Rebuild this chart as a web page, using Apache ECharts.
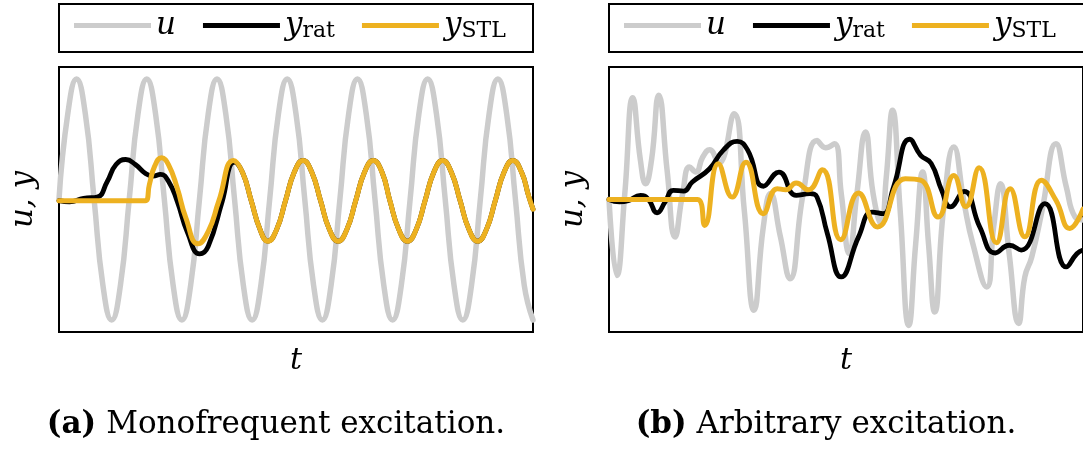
<!DOCTYPE html>
<html>
<head>
<meta charset="utf-8">
<script src="https://cdn.jsdelivr.net/npm/echarts@6/dist/echarts.min.js"></script>
<style>
  html, body { margin: 0; padding: 0; background: #fff; }
  #chart { width: 1083px; height: 449px; }
</style>
</head>
<body>
<div id="chart"></div>
<script>
// ---- (a) monofrequent excitation: time in samples, 8 samples per period of u ----
const uMono = [
  0, 0.71, 1, 0.71, 0, -0.71, -1, -0.71,
  0, 0.71, 1, 0.71, 0, -0.71, -1, -0.71,
  0, 0.71, 1, 0.71, 0, -0.71, -1, -0.71,
  0, 0.71, 1, 0.71, 0, -0.71, -1, -0.71,
  0, 0.71, 1, 0.71, 0, -0.71, -1, -0.71,
  0, 0.71, 1, 0.71, 0, -0.71, -1, -0.71,
  0, 0.71, 1, 0.71, 0, -0.71, -1
];

// steady-state response shared by both models after the transient
const ySteadyMono = [
  [20.9, 0.226], [21.9, -0.011], [22.9, -0.248], [23.8, -0.346], [24.8, -0.248],
  [25.8, -0.011], [26.8, 0.226], [27.8, 0.324], [28.8, 0.226], [29.8, -0.011],
  [30.8, -0.248], [31.8, -0.346], [32.8, -0.248], [33.8, -0.011], [34.8, 0.226],
  [35.8, 0.324], [36.8, 0.226], [37.7, -0.011], [38.7, -0.248], [39.7, -0.346],
  [40.7, -0.248], [41.7, -0.011], [42.7, 0.226], [43.7, 0.324], [44.7, 0.226],
  [45.7, -0.011], [46.7, -0.248], [47.7, -0.346], [48.7, -0.248], [49.7, -0.011],
  [50.7, 0.226], [51.7, 0.324], [52.7, 0.226], [53.5, 0.03], [54, -0.08]
];

const yRatMonoStart = [
  [0, -0.01], [1.2, -0.02], [2.8, 0.01], [4.35, 0.02], [5.5, 0.15], [6.5, 0.29],
  [7.6, 0.332], [8.7, 0.29], [9.9, 0.213], [10.7, 0.194], [11.56, 0.208],
  [12.47, 0.152], [13.46, -0.014], [14.65, -0.277], [16.03, -0.452], [17.0, -0.388],
  [18.6, -0.014], [19.95, 0.31]
];

const yStlMonoStart = [
  [0, -0.01], [9.82, -0.01], [10.3, 0.125], [10.9, 0.277], [11.68, 0.346],
  [12.47, 0.29], [13.46, 0.097], [14.45, -0.152], [15.84, -0.368], [17.02, -0.263],
  [18.2, -0.014], [19.87, 0.324]
];

// ---- (b) arbitrary excitation ----
const uArb = [
  [0, 0], [0.9, -0.63], [1.8, 0.05], [2.71, 0.845], [3.58, 0.325], [4.17, 0.131],
  [4.84, 0.325], [5.67, 0.865], [6.62, 0.242], [7.52, -0.311], [8.39, 0.048],
  [9.18, 0.27], [9.89, 0.228], [10.68, 0.353], [11.47, 0.414], [12.5, 0.3],
  [14.23, 0.712], [15.41, -0.09], [16.52, -0.92], [17.58, -0.228], [18.4, 0.05],
  [19.5, -0.3], [20.62, -0.657], [22.12, 0.048], [23.7, 0.49], [24.69, 0.43],
  [25.67, 0.463], [26.46, 0.048], [27.37, -0.45], [28.24, 0.048], [29.22, 0.56],
  [30.09, 0.048], [31.0, -0.2], [31.59, 0.187], [32.3, 0.74], [33.17, -0.09],
  [34.15, -1.045], [34.94, -0.367], [35.73, 0.228], [36.4, -0.367], [37.11, -0.934],
  [38.1, -0.09], [39.28, 0.436], [40.47, -0.035], [41.45, -0.367], [43.03, -0.726],
  [43.82, -0.228], [44.6, 0.131], [45.59, -0.45], [46.66, -1.03], [47.37, -0.643],
  [48.16, -0.477], [49.34, -0.09], [50.92, 0.463], [52.1, 0.104], [53.09, -0.145],
  [54, -0.17]
];

const yRatArb = [
  [0, 0], [1.2, -0.02], [2.2, -0.01], [3.58, 0.035], [4.5, 0.0], [5.47, -0.11],
  [6.4, -0.02], [7.32, 0.076], [8.5, 0.07], [9.49, 0.145], [11.46, 0.255],
  [13.03, 0.41], [14.6, 0.483], [15.8, 0.41], [17.6, 0.11], [19.36, 0.228],
  [21.33, 0.035], [22.9, 0.048], [23.7, 0.02], [24.88, -0.284], [26.46, -0.643],
  [28.43, -0.31], [30.0, -0.104], [31.2, -0.118], [32.4, 0.1], [34.27, 0.5],
  [35.5, 0.367], [36.7, 0.3], [37.9, 0.076], [38.9, -0.062], [40.45, 0.068],
  [42.24, -0.228], [44.0, -0.444], [45.6, -0.38], [46.97, -0.42], [49.66, -0.035],
  [52.1, -0.56], [53.3, -0.45], [54, -0.42]
];

const yStlArb = [
  [0, 0], [10.1, 0], [10.9, -0.215], [12.45, 0.297], [14.03, 0.02], [15.6, 0.31],
  [17.58, -0.118], [19.16, 0.09], [20.15, 0.08], [21.33, 0.137], [22.7, 0.08],
  [24.3, 0.248], [26.4, -0.334], [28.43, 0.054], [30.6, -0.228], [33.76, 0.173],
  [35.5, 0.16], [37.5, -0.145], [39.28, 0.2], [40.66, -0.06], [42.16, 0.264],
  [44.14, -0.36], [45.7, 0.09], [47.37, -0.31], [49.26, 0.16], [50.92, -0.007],
  [52.5, -0.24], [54, -0.08]
];

const seriesNames = ['u', 'y_rat', 'y_STL'];
const captions = ['{b|(a)} Monofrequent excitation.', '{b|(b)} Arbitrary excitation.'];

const COLORS = { u: '#cccccc', y_rat: '#000000', y_STL: '#edb120' };
const WIDTHS = { u: 5.5, y_rat: 4.8, y_STL: 5 };

const gridDefs = [
  { left: 59, top: 67, width: 474, height: 265 },
  { left: 609, top: 67, width: 475, height: 265 }
];

const mathFont = 'DejaVu Serif';
const textFont = 'DejaVu Serif';

function line(name, idx, data) {
  return {
    type: 'line', name, xAxisIndex: idx, yAxisIndex: idx, data,
    showSymbol: false, symbol: 'none', smooth: 0.5, animation: false,
    itemStyle: { color: COLORS[name] },
    lineStyle: { color: COLORS[name], width: WIDTHS[name], cap: 'round', join: 'round' },
    z: seriesNames.indexOf(name) + 2
  };
}

const monoU = uMono.map((v, i) => [i, v]);

const option = {
  animation: false,
  backgroundColor: '#fff',
  grid: gridDefs.map(g => Object.assign({ show: true, borderColor: '#000', borderWidth: 2, backgroundColor: 'transparent' }, g)),
  xAxis: gridDefs.map((g, i) => ({
    type: 'value', gridIndex: i, min: 0, max: 54,
    axisLine: { show: false }, axisTick: { show: false }, axisLabel: { show: false }, splitLine: { show: false },
    name: 't', nameLocation: 'middle', nameGap: 14,
    nameTextStyle: { fontFamily: mathFont, fontStyle: 'italic', fontSize: 30, color: '#000', verticalAlign: 'top' }
  })),
  yAxis: gridDefs.map((g, i) => ({
    type: 'value', gridIndex: i, min: -1.1, max: 1.1,
    axisLine: { show: false }, axisTick: { show: false }, axisLabel: { show: false }, splitLine: { show: false },
    name: 'u, y', nameLocation: 'middle', nameGap: 20, nameRotate: 90,
    nameTextStyle: { fontFamily: mathFont, fontStyle: 'italic', fontSize: 31, color: '#000' }
  })),
  legend: gridDefs.map(g => ({
    left: g.left + 15, top: 10, padding: 0, itemGap: 27, itemWidth: 77, itemHeight: 5,
    icon: 'rect', data: seriesNames, selectedMode: false,
    formatter: n => n === 'u' ? '{m|u}' : '{m|y}{s|' + n.split('_')[1] + '}',
    textStyle: {
      color: '#000',
      rich: {
        m: { fontFamily: mathFont, fontStyle: 'italic', fontSize: 31, lineHeight: 34, color: '#000' },
        s: { fontFamily: mathFont, fontSize: 22, lineHeight: 14, verticalAlign: 'bottom', color: '#000' }
      }
    }
  })),
  graphic: [
    ...gridDefs.map(g => ({
      type: 'rect', shape: { x: g.left, y: 4, width: g.width, height: 48 },
      style: { fill: 'none', stroke: '#000', lineWidth: 2 }, silent: true
    })),
    ...captions.map((c, i) => ({
      type: 'text', x: [276, 826][i], y: 425,
      style: {
        text: c, textAlign: 'center', textVerticalAlign: 'middle',
        fontFamily: textFont, fontSize: 31, fill: '#000',
        rich: { b: { fontFamily: textFont, fontSize: 31, fontWeight: 'bold', fill: '#000' } }
      }, silent: true
    }))
  ],
  series: [
    line('u', 0, monoU),
    line('y_rat', 0, yRatMonoStart.concat(ySteadyMono)),
    line('y_STL', 0, yStlMonoStart.concat(ySteadyMono)),
    line('u', 1, uArb),
    line('y_rat', 1, yRatArb),
    line('y_STL', 1, yStlArb)
  ]
};

const chart = echarts.init(document.getElementById('chart'), null, { renderer: 'canvas' });
chart.setOption(option);
</script>
</body>
</html>
